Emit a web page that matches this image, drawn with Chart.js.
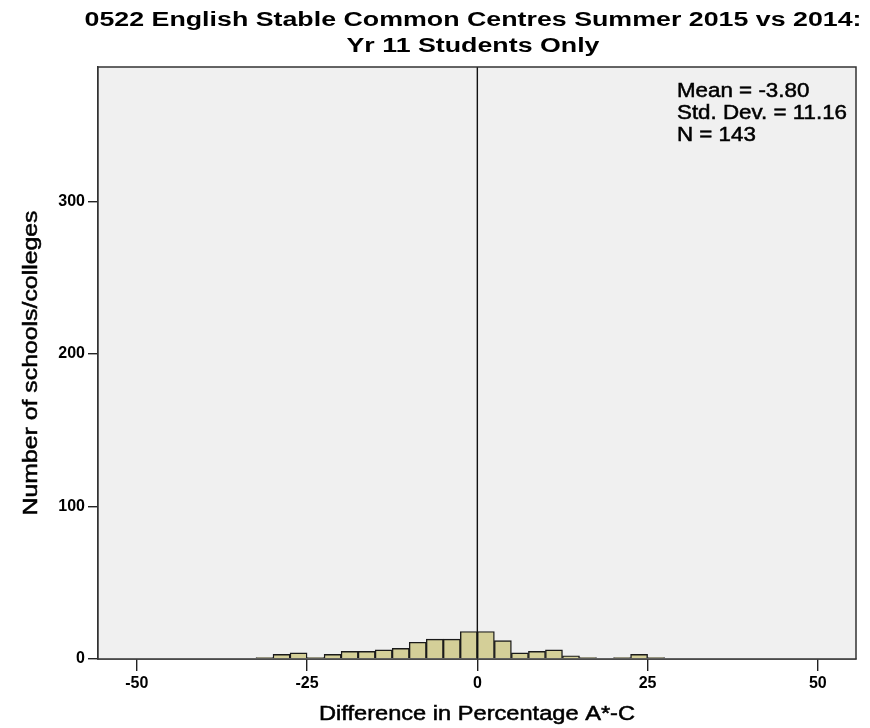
<!DOCTYPE html>
<html>
<head>
<meta charset="utf-8">
<script src="https://cdn.jsdelivr.net/npm/chart.js@4.4.1/dist/chart.umd.min.js"></script>
<style>
  html, body { margin: 0; padding: 0; background: #ffffff; }
  #wrap { width: 870px; height: 728px; }
</style>
</head>
<body>
<div id="wrap"><canvas id="hist" width="870" height="728"></canvas></div>
<script>
// Histogram bins of width 2.5 (lower edges) and school counts per bin
const binStarts = [-32.5, -30, -27.5, -25, -22.5, -20, -17.5, -15, -12.5, -10, -7.5, -5, -2.5,
                   0, 2.5, 5, 7.5, 10, 12.5, 15, 17.5, 20, 22.5, 25];
const counts    = [1, 3, 4, 1, 3, 5, 5, 6, 7, 11, 13, 13, 18,
                   18, 12, 4, 5, 6, 2, 1, 0, 1, 3, 1];
const binWidth = 2.5;

const xTicks = [-50, -25, 0, 25, 50];
const yTicks = [0, 100, 200, 300];

const titleLines = ['0522 English Stable Common Centres Summer 2015 vs 2014:', 'Yr 11 Students Only'];
const statLines = ['Mean = -3.80', 'Std. Dev. = 11.16', 'N = 143'];
const xTitle = 'Difference in Percentage A*-C';
const yTitle = 'Number of schools/colleges';

const points = binStarts.map((s, i) => ({ x: s + binWidth / 2, y: counts[i] }));

const FONT = "'Liberation Sans', Arial, sans-serif";

// Draw text with a horizontal stretch; optional thin outline makes regular text a touch heavier
function wideText(ctx, text, x, y, font, sx, angle, heavy) {
  ctx.save();
  ctx.font = font;
  ctx.translate(x, y);
  if (angle) ctx.rotate(angle);
  ctx.scale(sx, 1);
  ctx.fillText(text, 0, 0);
  if (heavy) {
    ctx.strokeStyle = ctx.fillStyle;
    ctx.lineWidth = heavy;
    ctx.strokeText(text, 0, 0);
  }
  ctx.restore();
}
function stretchFor(ctx, text, font, width) {
  ctx.save();
  ctx.font = font;
  const w = ctx.measureText(text).width;
  ctx.restore();
  return width / w;
}

const decor = {
  id: 'decor',
  beforeDatasetsDraw(chart) {
    const { ctx, chartArea: a } = chart;
    ctx.save();
    ctx.fillStyle = '#f0f0f0';
    ctx.fillRect(a.left, a.top, a.right - a.left, a.bottom - a.top);
    ctx.restore();
  },
  afterDatasetsDraw(chart) {
    const { ctx, chartArea: a, scales } = chart;
    ctx.save();
    // reference line at zero
    const x0 = scales.x.getPixelForValue(0);
    ctx.strokeStyle = '#111';
    ctx.lineWidth = 1.4;
    ctx.beginPath();
    ctx.moveTo(x0, a.top);
    ctx.lineTo(x0, a.bottom);
    ctx.stroke();
    // plot frame
    ctx.strokeStyle = '#333';
    ctx.lineWidth = 1.5;
    ctx.strokeRect(a.left, a.top, a.right - a.left, a.bottom - a.top);

    ctx.fillStyle = '#000';
    ctx.textBaseline = 'middle';

    // summary statistics
    const statFont = '20px ' + FONT;
    const sxs = stretchFor(ctx, statLines[1], statFont, 170);
    ctx.textAlign = 'left';
    statLines.forEach((t, i) => wideText(ctx, t, 677, 91 + i * 22, statFont, sxs, 0, 0.5));

    // chart title centred over plot area
    const titleFont = 'bold 20px ' + FONT;
    const sxt = stretchFor(ctx, titleLines[0], titleFont, 777);
    ctx.textAlign = 'center';
    const cx = (a.left + a.right) / 2 - 4;
    wideText(ctx, titleLines[0], cx, 20, titleFont, sxt);
    wideText(ctx, titleLines[1], cx, 46, titleFont, sxt);

    // axis titles
    const axFont = '20px ' + FONT;
    const sxx = stretchFor(ctx, xTitle, axFont, 316);
    wideText(ctx, xTitle, (a.left + a.right) / 2, 714, axFont, sxx, 0, 0.5);
    const sxy = stretchFor(ctx, yTitle, axFont, 305);
    wideText(ctx, yTitle, 31, (a.top + a.bottom) / 2, axFont, sxy, -Math.PI / 2, 0.5);
    ctx.restore();
  }
};

new Chart(document.getElementById('hist'), {
  type: 'bar',
  data: {
    datasets: [{
      data: points,
      backgroundColor: '#d4cf98',
      borderColor: '#1a1a1a',
      borderWidth: 1.4,
      barPercentage: 1,
      categoryPercentage: 1,
      grouped: false
    }]
  },
  options: {
    responsive: false,
    animation: false,
    events: [],
    layout: { padding: { left: 0, right: 14, top: 67, bottom: 0 } },
    plugins: { legend: { display: false }, tooltip: { enabled: false }, title: { display: false } },
    scales: {
      x: {
        type: 'linear',
        min: -55.7,
        max: 55.6,
        offset: false,
        afterFit(s) { s.height = 69; },
        afterBuildTicks(s) { s.ticks = xTicks.map(v => ({ value: v })); },
        grid: { display: true, offset: false, drawOnChartArea: false, drawTicks: true, tickLength: 12, color: '#222', lineWidth: 1.4 },
        border: { display: true, color: '#333', width: 1.5 },
        ticks: { color: '#000', font: { family: FONT, size: 16, weight: 'bold' }, padding: 3, maxRotation: 0 },
        title: { display: false }
      },
      y: {
        type: 'linear',
        min: 0,
        max: 388,
        afterFit(s) { s.width = 98; },
        afterBuildTicks(s) { s.ticks = yTicks.map(v => ({ value: v })); },
        grid: { display: true, drawOnChartArea: false, drawTicks: true, tickLength: 10, color: '#222', lineWidth: 1.4 },
        border: { display: true, color: '#333', width: 1.5 },
        ticks: { color: '#000', font: { family: FONT, size: 16, weight: 'bold' }, padding: 3 },
        title: { display: false }
      }
    }
  },
  plugins: [decor]
});
</script>
</body>
</html>
